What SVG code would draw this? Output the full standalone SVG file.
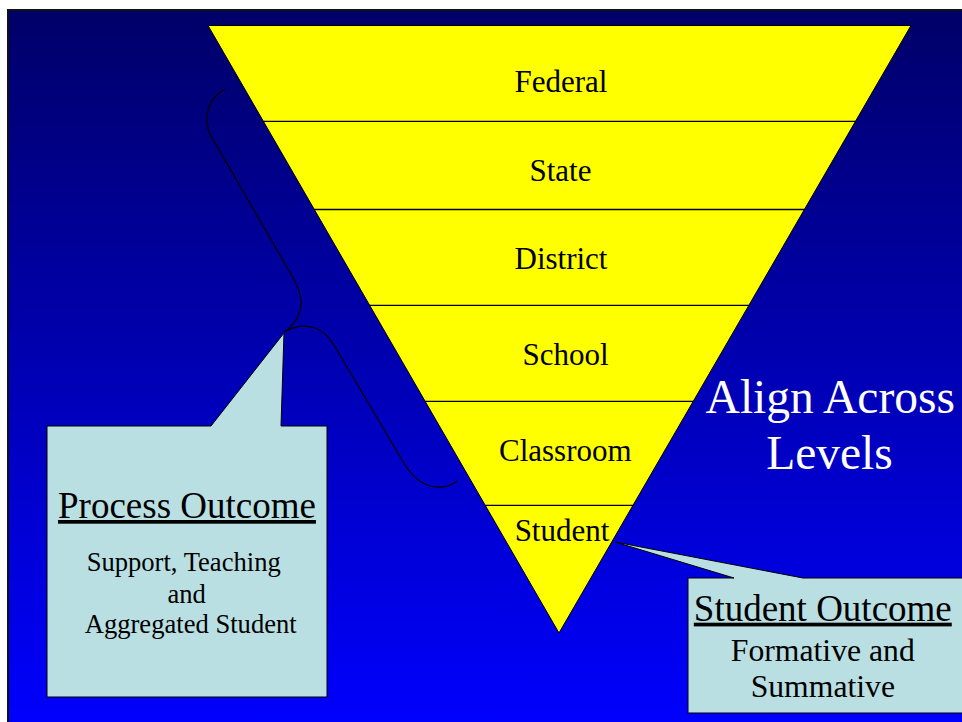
<svg xmlns="http://www.w3.org/2000/svg" width="962" height="722" viewBox="0 0 962 722">
<defs>
<linearGradient id="bg" x1="0" y1="0" x2="0" y2="1">
<stop offset="0" stop-color="#000068"/>
<stop offset="1" stop-color="#0000FF"/>
</linearGradient>
<style>
text{font-family:"Liberation Serif","Times New Roman",serif;text-anchor:middle;fill:#000}
.lvl{font-size:31px}
.big{font-size:47.5px;fill:#fff}
.title{font-size:37px;text-decoration:underline}
.callout{fill:#B9DFE3;stroke:#000;stroke-width:1}
.sep{stroke:#000;stroke-width:1.3}
.brace{fill:none;stroke:#000;stroke-width:1.3}
</style>
</defs>
<rect x="0" y="0" width="962" height="722" fill="#fff"/>
<rect x="8" y="10" width="960" height="720" fill="url(#bg)" stroke="#111" stroke-width="2"/>

<g id="pyramid">
<polygon points="208,25.5 911,25.5 559,633" fill="#FFFF00" stroke="#000" stroke-width="1"/>
</g>

<g id="connectors">
<line class="sep" x1="263" y1="121.3" x2="855.8" y2="121.3"/>
<line class="sep" x1="313.9" y1="209.5" x2="804.8" y2="209.5"/>
<line class="sep" x1="369.5" y1="305.3" x2="748.9" y2="305.3"/>
<line class="sep" x1="424.9" y1="401.3" x2="693.3" y2="401.3"/>
<line class="sep" x1="485.1" y1="505.3" x2="633" y2="505.3"/>
<path class="brace" d="M 225 89 Q 203 102 208 128 Q 209 134 214 141 L 292 276 Q 302 293 301 305 Q 299 322 284 332"/>
<path class="brace" d="M 284 332 Q 300 323 315 328 Q 326 332 334 345 L 405 465 Q 420 488 440 487 Q 450 487 457 481"/>
</g>

<g id="federal"><text class="lvl" x="561" y="92.3">Federal</text></g>
<g id="state"><text class="lvl" x="560.5" y="180.7">State</text></g>
<g id="district"><text class="lvl" x="561" y="269">District</text></g>
<g id="school"><text class="lvl" x="565.5" y="365">School</text></g>
<g id="classroom"><text class="lvl" x="565.3" y="460.7">Classroom</text></g>
<g id="student"><text class="lvl" x="562" y="541">Student</text></g>

<g id="align">
<text class="big" x="830.3" y="412.7">Align Across</text>
<text class="big" x="829.5" y="469">Levels</text>
</g>

<g id="process-outcome">
<path class="callout" d="M 47 426 L 211 426 L 284 333 L 281 426 L 327 426 L 327 697 L 47 697 Z"/>
<text class="title" x="187" y="518">Process Outcome</text>
<text x="183.7" y="571" font-size="26.6">Support, Teaching</text>
<text x="186.7" y="603" font-size="26.6">and</text>
<text x="190.7" y="633.3" font-size="26.6">Aggregated Student</text>
</g>

<g id="student-outcome">
<path class="callout" d="M 688 578 L 734 578 L 615 542 L 803 578 L 970 578 L 970 713 L 688 713 Z"/>
<text class="title" x="822.8" y="620.7">Student Outcome</text>
<text x="822.8" y="660.7" font-size="31.7">Formative and</text>
<text x="822.8" y="697.3" font-size="31.7">Summative</text>
</g>
</svg>
